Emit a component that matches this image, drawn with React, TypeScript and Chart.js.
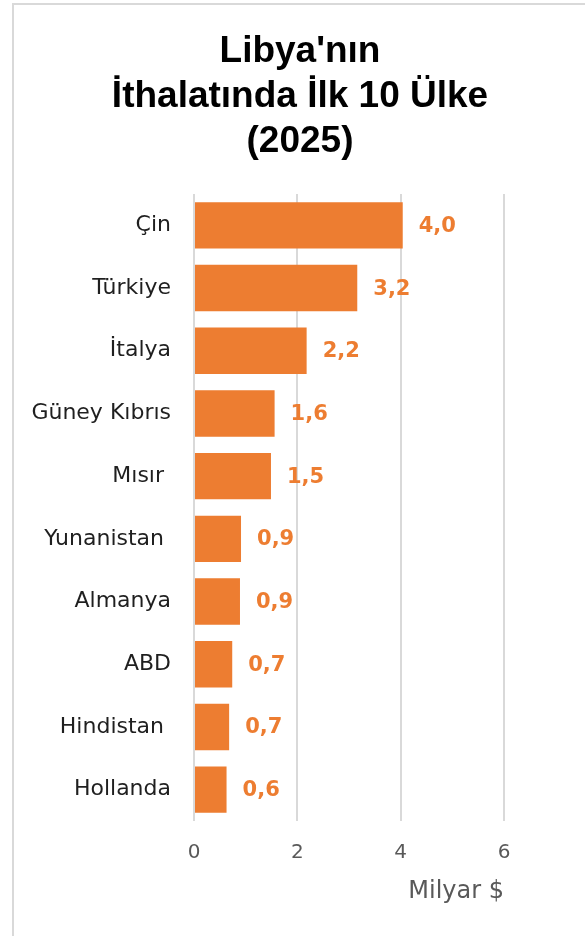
import { useEffect, useRef } from "react";
import { Chart, registerables } from "chart.js";

Chart.register(...registerables);

const categories = [
  "Çin",
  "Türkiye",
  "İtalya",
  "Güney Kıbrıs",
  "Mısır ",
  "Yunanistan ",
  "Almanya",
  "ABD",
  "Hindistan ",
  "Hollanda",
];
const values = [4.04, 3.16, 2.18, 1.56, 1.49, 0.91, 0.89, 0.74, 0.68, 0.63];
const titleLines = ["Libya'nın", "İthalatında İlk 10 Ülke", "(2025)"];
const axisTitle = "Milyar $";
const xMin = 0;
const xMax = 6;
const xStep = 2;

const BAR_COLOR = "#ED7D31";
const fmt = (v: number) => v.toFixed(1).replace(".", ",");

const valueLabels = {
  id: "valueLabels",
  afterDatasetsDraw(chart: any) {
    const { ctx } = chart;
    const meta = chart.getDatasetMeta(0);
    ctx.save();
    ctx.font = 'bold 21px "DejaVu Sans"';
    ctx.fillStyle = BAR_COLOR;
    ctx.textAlign = "left";
    ctx.textBaseline = "middle";
    meta.data.forEach((bar: any, i: number) => {
      const v = chart.data.datasets[0].data[i] as number;
      ctx.fillText(fmt(v), bar.x + 16, bar.y + 1);
    });
    ctx.restore();
  },
};

export default function App() {
  const ref = useRef<HTMLCanvasElement | null>(null);

  useEffect(() => {
    if (!ref.current) return;
    const chart = new Chart(ref.current, {
      type: "bar",
      data: {
        labels: categories,
        datasets: [
          {
            data: values,
            backgroundColor: BAR_COLOR,
            categoryPercentage: 1,
            barPercentage: 0.74,
          },
        ],
      },
      plugins: [valueLabels],
      options: {
        indexAxis: "y",
        animation: false,
        responsive: false,
        layout: { padding: { left: 0, right: 24, top: 0, bottom: 40 } },
        plugins: {
          legend: { display: false },
          tooltip: { enabled: false },
          title: {
            display: true,
            text: titleLines,
            color: "#000000",
            font: { family: '"Liberation Sans"', size: 37, weight: "bold", lineHeight: 1.22 },
            padding: { top: 24, bottom: 29.6 },
          },
        },
        scales: {
          x: {
            min: xMin,
            max: xMax,
            ticks: {
              stepSize: xStep,
              color: "#595959",
              font: { family: '"DejaVu Sans"', size: 20 },
              padding: 20,
            },
            grid: { color: "#d9d9d9", lineWidth: 2, drawTicks: false },
            border: { display: false },
            title: {
              display: true,
              text: axisTitle,
              align: "end",
              color: "#595959",
              font: { family: '"DejaVu Sans"', size: 24 },
              padding: { top: 15, bottom: 15 },
            },
            afterFit: (scale: any) => {
              scale.height = 100;
            },
          },
          y: {
            ticks: {
              color: "#1f1f1f",
              font: { family: '"DejaVu Sans"', size: 22 },
              padding: 15,
            },
            grid: { display: false },
            border: { display: false },
            afterFit: (scale: any) => {
              scale.width = 180;
            },
          },
          spacer: {
            type: "linear",
            axis: "y",
            position: "right",
            ticks: { display: false },
            grid: { display: false },
            border: { display: false },
            afterFit: (scale: any) => {
              scale.width = 82;
            },
          },
        },
      },
    } as any);
    return () => chart.destroy();
  }, []);

  return (
    <div
      style={{
        position: "fixed",
        left: 0,
        top: 0,
        width: 585,
        height: 936,
        overflow: "hidden",
        background: "#ffffff",
      }}
    >
      <div
        style={{
          position: "absolute",
          left: 12,
          top: 3,
          width: 600,
          height: 960,
          border: "2px solid #d9d9d9",
          boxSizing: "border-box",
        }}
      >
        <canvas ref={ref} width={596} height={956} style={{ display: "block", width: 596, height: 956 }} />
      </div>
    </div>
  );
}
